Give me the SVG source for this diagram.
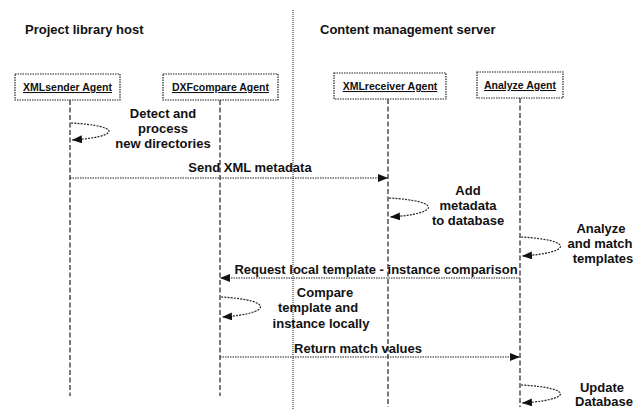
<svg xmlns="http://www.w3.org/2000/svg" width="635" height="409" viewBox="0 0 635 409">
<style>
text{font-family:"Liberation Sans",Arial,sans-serif;font-weight:bold;fill:#111}
.t{font-size:13px}
.lbl{font-size:13px;text-anchor:middle}
.box{fill:#fff;stroke:#222;stroke-width:1.2;stroke-dasharray:1.5,1}
.bt{font-size:10.5px;text-anchor:middle;text-decoration:underline}
.life{stroke:#222;stroke-width:1.2;stroke-dasharray:5,2.5;fill:none}
.msg{stroke:#222;stroke-width:1.2;stroke-dasharray:1.5,1;fill:none}
.loop{stroke:#222;stroke-width:1.2;stroke-dasharray:2,1.2;fill:none}
.sep{stroke:#444;stroke-width:1.2;stroke-dasharray:1,1}
</style>
<defs>
<marker id="ah" viewBox="0 0 10 8" refX="10" refY="4" markerWidth="10" markerHeight="8" markerUnits="userSpaceOnUse" orient="auto">
<path d="M0,0 L10,4 L0,8 Z" fill="#111"/>
</marker>
</defs>
<rect width="635" height="409" fill="#fff"/>
<line class="sep" x1="293" y1="10" x2="293" y2="409"/>
<text class="t" x="25" y="34">Project library host</text>
<text class="t" x="320" y="34">Content management server</text>
<g id="xmlsender">
<rect class="box" x="15" y="74" width="105" height="26"/>
<text class="bt" x="67.5" y="91">XMLsender Agent</text>
<line class="life" x1="70" y1="100" x2="70" y2="396"/>
</g>
<g id="dxfcompare">
<rect class="box" x="163" y="74" width="115" height="26"/>
<text class="bt" x="220.5" y="91">DXFcompare Agent</text>
<line class="life" x1="220" y1="100" x2="220" y2="396"/>
</g>
<g id="xmlreceiver">
<rect class="box" x="334" y="73" width="112" height="26"/>
<text class="bt" x="390" y="90">XMLreceiver Agent</text>
<line class="life" x1="388" y1="99" x2="388" y2="407"/>
</g>
<g id="analyze">
<rect class="box" x="477" y="72" width="86" height="26"/>
<text class="bt" x="520" y="89">Analyze Agent</text>
<line class="life" x1="520" y1="98" x2="520" y2="407"/>
</g>
<g id="connectors">
<path class="loop" d="M71,123 C124,126 119,137 72,140" marker-end="url(#ah)"/>
<line class="msg" x1="70" y1="178" x2="388" y2="178" marker-end="url(#ah)"/>
<path class="loop" d="M389,198 C444,201 439,214 390,217" marker-end="url(#ah)"/>
<path class="loop" d="M521,237 C576,240 571,253 522,256" marker-end="url(#ah)"/>
<line class="msg" x1="520" y1="278" x2="220" y2="278" marker-end="url(#ah)"/>
<path class="loop" d="M221,297 C276,300 271,314 222,317" marker-end="url(#ah)"/>
<line class="msg" x1="220" y1="357" x2="520" y2="357" marker-end="url(#ah)"/>
<path class="loop" d="M521,385 C576,388 571,400 522,403" marker-end="url(#ah)"/>
</g>
<g id="labels">
<text class="lbl" x="163" y="118">Detect and</text>
<text class="lbl" x="163" y="133">process</text>
<text class="lbl" x="163" y="148">new directories</text>
<text class="lbl" x="250" y="172">Send XML metadata</text>
<text class="lbl" x="468" y="195">Add</text>
<text class="lbl" x="468" y="210">metadata</text>
<text class="lbl" x="468" y="225">to database</text>
<text class="lbl" x="601" y="233">Analyze</text>
<text class="lbl" x="600" y="248">and match</text>
<text class="lbl" x="603" y="263">templates</text>
<text class="lbl" x="376" y="274">Request local template - instance comparison</text>
<text class="lbl" x="325" y="297">Compare</text>
<text class="lbl" x="318" y="312">template and</text>
<text class="lbl" x="321" y="328">instance locally</text>
<text class="lbl" x="358" y="353">Return match values</text>
<text class="lbl" x="602" y="392">Update</text>
<text class="lbl" x="604" y="406">Database</text>
</g>
</svg>
